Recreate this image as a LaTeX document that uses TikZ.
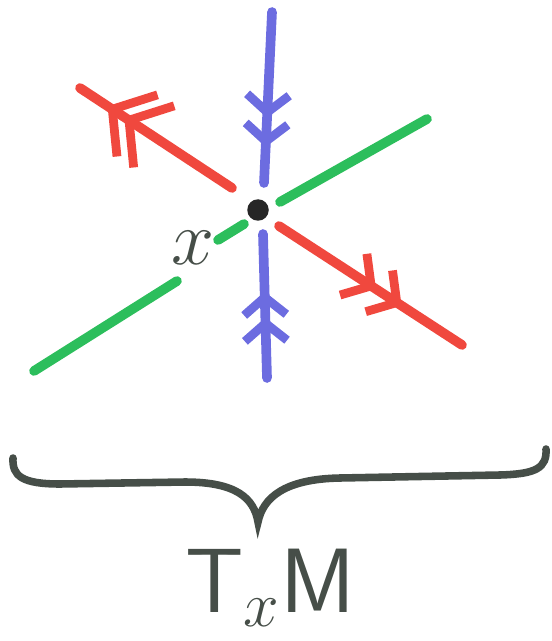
\RequirePackage{fix-cm}
\documentclass[tikz,border=0pt]{standalone}
\usetikzlibrary{arrows.meta,decorations.markings}

\definecolor{penred}{RGB}{240,72,62}
\definecolor{penblue}{RGB}{108,108,224}
\definecolor{pengreen}{RGB}{44,190,92}
\definecolor{pengray}{RGB}{70,78,72}

\tikzset{
  pen/.style={line width=5.5pt, line cap=round},
  twotips/.style n args={3}{postaction={decorate}, decoration={markings,
      mark=at position #1 with {\arrow[line width=5pt, line cap=round, line join=round]{#3}},
      mark=at position #2 with {\arrow[line width=5pt, line cap=round, line join=round]{#3}}}}
}

\begin{document}
\begin{tikzpicture}[x=0.02cm, y=-0.02cm]
    \useasboundingbox (0,0) rectangle (551,641);

    \node[circle, fill=black!85, minimum size=0.43cm, inner sep=0pt] (pt) at (258,210) {};
    \node[text=pengray] (xlab) at (193,248) {\fontsize{44}{50}\selectfont $x$};

    \coordinate (bTop) at (272,12);
    \coordinate (bTopIn) at (264,183);
    \coordinate (bBot) at (267,378);
    \coordinate (bBotIn) at (263,234);
    \coordinate (rNW) at (80,88);
    \coordinate (rNWIn) at (232,188);
    \coordinate (rSE) at (462,345);
    \coordinate (rSEIn) at (279,226);
    \coordinate (gSW) at (34,371);
    \coordinate (gSWIn) at (177,281);
    \coordinate (gMidA) at (218,240);
    \coordinate (gMidB) at (244,224);
    \coordinate (gNEIn) at (280,202);
    \coordinate (gNE) at (427,119);

    \draw[pen, penblue, twotips={0.62}{0.79}{Straight Barb[length=10pt, width=24pt]}] (bTop) -- (bTopIn);
    \draw[pen, penblue, twotips={0.42}{0.60}{Straight Barb[length=10pt, width=24pt]}] (bBot) -- (bBotIn);
    \draw[pen, penred, twotips={0.71}{0.82}{Straight Barb[length=17pt, width=42pt]}] (rNWIn) -- (rNW);
    \draw[pen, penred, twotips={0.53}{0.67}{Straight Barb[length=12pt, width=28pt]}] (rSEIn) -- (rSE);
    \draw[pen, pengreen] (gSW) -- (gSWIn);
    \draw[pen, pengreen] (gMidA) -- (gMidB);
    \draw[pen, pengreen] (gNEIn) -- (gNE);

    \draw[pen, pengray, line width=4.3pt] (13,458) .. controls (12,476) and (22,484) .. (60,484)
      -- (185,482) .. controls (236,482) and (254,498) .. (258,522)
      .. controls (263,498) and (284,479) .. (340,478)
      -- (500,475) .. controls (536,474) and (547,468) .. (546,449);

    \node[text=pengray] (tm) at (270,588) {\fontsize{52}{60}\selectfont $\mathsf{T}_{x}\mathsf{M}$};
\end{tikzpicture}
\end{document}
